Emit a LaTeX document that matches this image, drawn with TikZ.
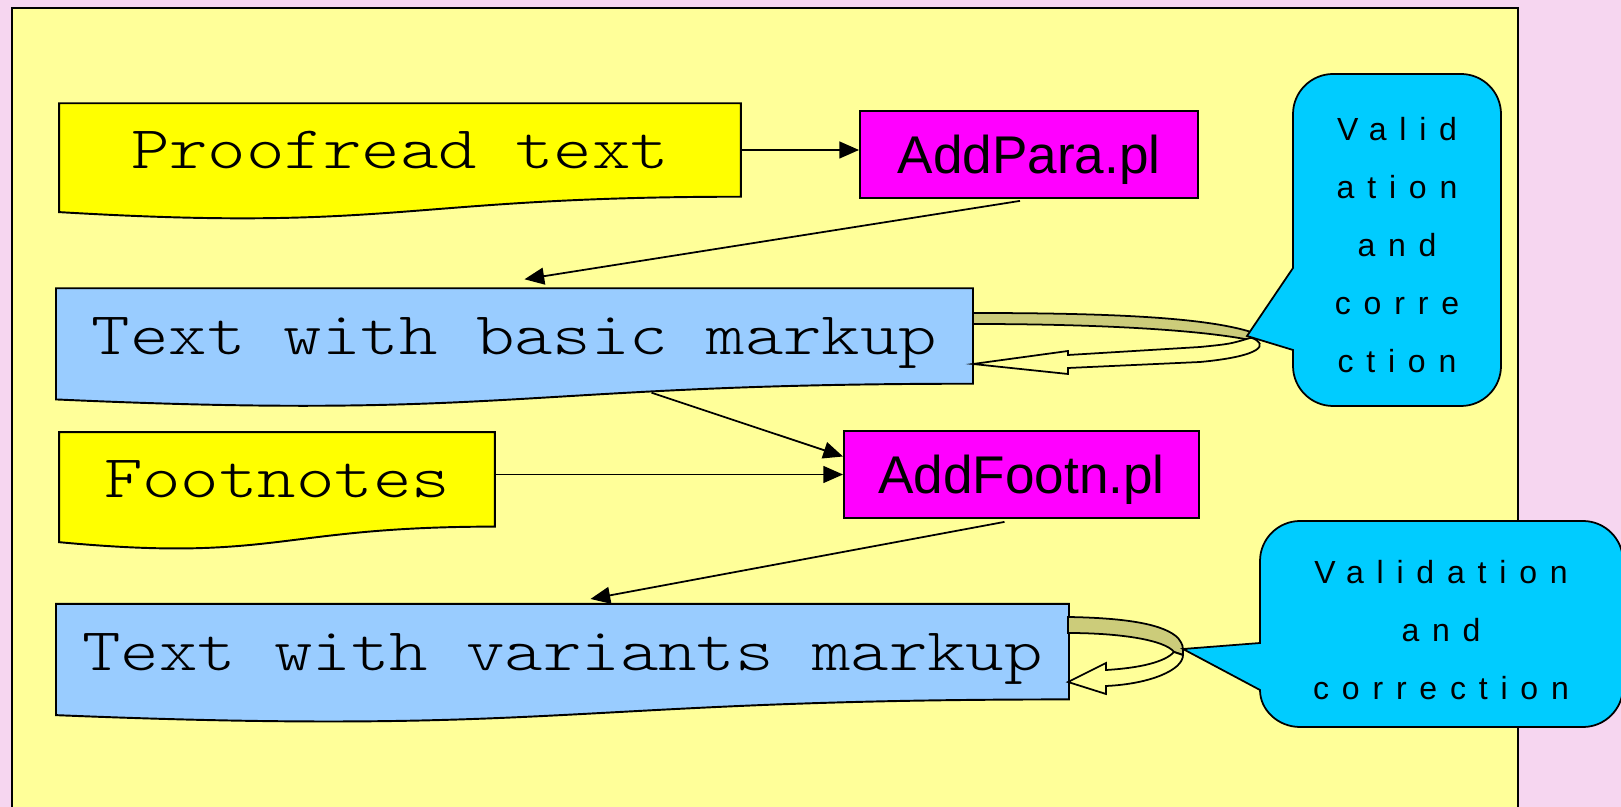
\documentclass[tikz,border=0pt]{standalone}
\usepackage{graphicx}
\usepackage{fontspec}
\newfontfamily\courfont{lmmonolt10-regular.otf}
\newfontfamily\plfont{Liberation Sans}
\newfontfamily\spacedfont[LetterSpace=40]{Liberation Sans}
\newcommand{\widetype}[1]{\scalebox{1.21}[1]{#1}}
\usetikzlibrary{arrows.meta}
\usetikzlibrary{calc}
\tikzset{>={Triangle[length=5.6pt,width=4.8pt]}}
\definecolor{slidepink}{RGB}{246,214,240}
\definecolor{panelyellow}{RGB}{255,255,153}
\definecolor{docyellow}{RGB}{255,255,0}
\definecolor{docblue}{RGB}{153,204,255}
\definecolor{plmagenta}{RGB}{255,0,255}
\definecolor{callcyan}{RGB}{0,204,255}
\definecolor{loopkhaki}{RGB}{204,204,122}
\pgfdeclarelayer{background}
\pgfsetlayers{background,main}
\tikzset{
  docnode/.style={inner sep=0pt,font=\courfont\fontsize{17.2}{20}\selectfont,text height=10.5pt,text depth=0pt},
  plnode/.style={draw,fill=plmagenta,line width=0.5pt,inner sep=0pt,font=\plfont\fontsize{15.1}{17}\selectfont,text height=10.8pt,text depth=0pt},
  calltext/.style={align=center,font=\spacedfont\fontsize{9.1}{16.5}\selectfont},
  callbox/.style={draw,fill=callcyan,line width=0.5pt},
  backband/.style={draw,fill=loopkhaki,line width=0.5pt},
  frontband/.style={draw,fill=panelyellow,line width=0.5pt},
  link/.style={->,line width=0.5pt}
}

\begin{document}
\begin{tikzpicture}[x=0.01cm,y=-0.01cm]
  \useasboundingbox (0,0) rectangle (1621,807);

  % documents and scripts
  \node[docnode,minimum width=6.8cm,minimum height=0.92cm] (proof) at (400,150) {\widetype{Proofread text}};
  \node[plnode,minimum width=3.38cm,minimum height=0.87cm] (addpara) at (1029,154.5) {AddPara.pl};
  \node[docnode,minimum width=9.15cm,minimum height=0.94cm] (basic) at (514.5,336) {\widetype{Text with basic markup}};
  \node[docnode,minimum width=4.34cm,minimum height=0.93cm] (foot) at (277,479.4) {\widetype{Footnotes}};
  \node[plnode,minimum width=3.55cm,minimum height=0.87cm] (addfootn) at (1021.5,474.5) {AddFootn.pl};
  \node[docnode,minimum width=10.11cm,minimum height=0.94cm] (variants) at (562.5,651.7) {\widetype{Text with variants markup}};

  \begin{pgfonlayer}{background}
    \fill[slidepink] (0,0) rectangle (1621,807);
    \draw[fill=panelyellow,line width=0.55pt] (12,8) rectangle (1518,815);
    \foreach \n/\c in {proof/docyellow,basic/docblue,foot/docyellow,variants/docblue}
      \draw[fill=\c,line width=0.55pt] (\n.north west) -- (\n.north east) -- (\n.south east)
        .. controls (\n.south) and ($(\n.south)!-0.381!(\n.north)$)
        .. ($(\n.south west)!-0.1646!(\n.north west)$) -- cycle;
  \end{pgfonlayer}

  \draw[link] (proof.east) -- (proof.east -| addpara.west);
  \draw[link] ($(addpara.south)+(-9,2)$) -- ($(basic.north)+(10,-9)$);
  \draw[link] ($(basic.south)+(137,9)$) -- ($(addfootn.west)+(0,-18)$);
  \draw[link] (addfootn.west -| foot.east) -- (addfootn.west);
  \draw[link] ($(addfootn.south)+(-17,3)$) -- ($(variants.north)+(28,-5)$);

  % loop arrows
  \draw[backband] (973,313) .. controls (1120,313) and (1220,318) .. (1262,336)
    -- (1250,340) .. controls (1200,330) and (1100,324) .. (973,324) -- cycle;
  \draw[frontband] (1250,338) .. controls (1230,344) .. (1200,347) -- (1068,355) -- (1068,351)
    -- (973,364) -- (1068,374) -- (1068,368) -- (1200,362)
    .. controls (1264,356) and (1268,344) .. (1252,338) -- cycle;
  \draw[backband] (1068,617) .. controls (1130,618) and (1165,625) .. (1178,638)
    .. controls (1183,645) .. (1183,655) -- (1174,652)
    .. controls (1165,640) and (1120,633) .. (1068,633) -- cycle;
  \draw[frontband] (1174,652) .. controls (1165,662) and (1140,668) .. (1106,670) -- (1106,663)
    -- (1068,682) -- (1106,694) -- (1106,686)
    .. controls (1150,684) and (1183,670) .. (1183,655) -- cycle;

  % callouts
  \draw[callbox] (1293,268) -- (1247,336) -- (1293,350) -- (1293,366)
    .. controls (1293,388) and (1311,406) .. (1333,406) -- (1461,406)
    .. controls (1483,406) and (1501,388) .. (1501,366) -- (1501,114)
    .. controls (1501,92) and (1483,74) .. (1461,74) -- (1333,74)
    .. controls (1311,74) and (1293,92) .. (1293,114) -- cycle;
  \draw[callbox] (1260,643) -- (1183,649) -- (1260,690)
    .. controls (1260,710) and (1278,727) .. (1300,727) -- (1583,727)
    .. controls (1605,727) and (1623,709) .. (1623,687) -- (1623,561)
    .. controls (1623,539) and (1605,521) .. (1583,521) -- (1300,521)
    .. controls (1278,521) and (1260,539) .. (1260,561) -- cycle;
  \node[calltext] (valid1) at (1397,245) {Valid\\ation\\and\\corre\\ction};
  \node[calltext] (valid2) at (1441,630) {Validation\\and\\correction};
\end{tikzpicture}
\end{document}
